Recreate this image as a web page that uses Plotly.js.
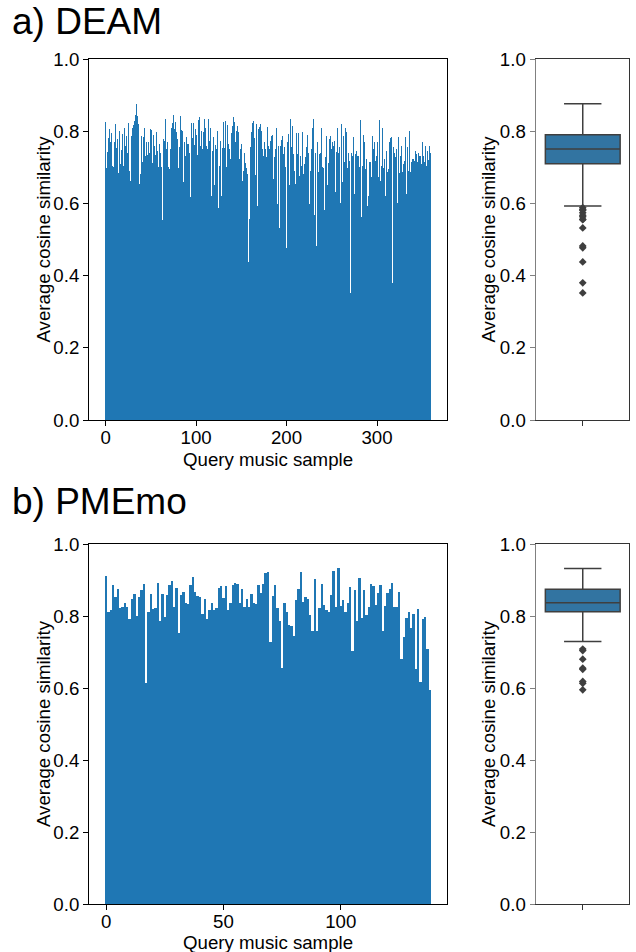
<!DOCTYPE html>
<html><head><meta charset="utf-8">
<script src="https://cdn.plot.ly/plotly-3.0.1.min.js"></script>
<style>html,body{margin:0;padding:0;background:#fff}</style>
</head><body><div id="chart" style="width:636px;height:952px"></div>
<script>
const deamValues = [
0.826,0.698,0.743,0.780,0.806,0.769,0.795,0.732,0.705,0.700,
0.770,0.820,0.753,0.778,0.685,0.800,0.710,0.737,0.749,0.792,
0.705,0.808,0.758,0.788,0.740,0.824,0.690,0.663,0.714,0.786,
0.810,0.817,0.829,0.845,0.876,0.841,0.820,0.654,0.845,0.682,
0.788,0.714,0.783,0.808,0.732,0.769,0.734,0.770,0.740,0.829,
0.806,0.804,0.712,0.790,0.760,0.735,0.798,0.745,0.702,0.776,
0.764,0.741,0.702,0.555,0.778,0.774,0.835,0.751,0.770,0.700,
0.749,0.694,0.751,0.810,0.822,0.845,0.806,0.826,0.797,0.778,
0.788,0.698,0.755,0.843,0.804,0.801,0.659,0.770,0.732,0.783,
0.765,0.762,0.765,0.740,0.617,0.824,0.780,0.822,0.762,0.806,
0.790,0.751,0.734,0.832,0.838,0.760,0.801,0.751,0.797,0.834,
0.810,0.788,0.760,0.751,0.834,0.774,0.810,0.620,0.746,0.783,
0.650,0.762,0.847,0.751,0.801,0.588,0.705,0.774,0.620,0.753,
0.826,0.753,0.686,0.829,0.700,0.817,0.765,0.751,0.723,0.795,
0.815,0.838,0.826,0.786,0.770,0.800,0.815,0.797,0.723,0.751,
0.765,0.663,0.691,0.688,0.740,0.712,0.699,0.682,0.438,0.556,
0.755,0.797,0.824,0.829,0.815,0.780,0.679,0.820,0.594,0.806,
0.813,0.820,0.801,0.751,0.695,0.732,0.770,0.751,0.728,0.813,
0.760,0.751,0.774,0.788,0.790,0.783,0.668,0.728,0.751,0.808,
0.597,0.758,0.532,0.758,0.777,0.760,0.786,0.737,0.755,0.702,
0.477,0.770,0.792,0.650,0.835,0.755,0.597,0.815,0.737,0.691,
0.654,0.795,0.737,0.795,0.677,0.730,0.574,0.705,0.797,0.682,
0.709,0.728,0.755,0.790,0.740,0.597,0.691,0.685,0.751,0.808,
0.835,0.567,0.740,0.482,0.770,0.686,0.737,0.838,0.740,0.808,
0.700,0.697,0.581,0.728,0.786,0.650,0.712,0.778,0.714,0.788,
0.751,0.770,0.760,0.774,0.631,0.743,0.810,0.740,0.765,0.755,
0.600,0.820,0.659,0.788,0.714,0.810,0.797,0.699,0.740,0.737,
0.718,0.352,0.740,0.732,0.783,0.627,0.737,0.746,0.732,0.668,
0.732,0.700,0.832,0.563,0.705,0.790,0.770,0.696,0.723,0.593,
0.810,0.620,0.716,0.714,0.673,0.788,0.751,0.770,0.718,0.732,
0.859,0.770,0.673,0.832,0.663,0.705,0.810,0.697,0.723,0.620,
0.746,0.795,0.688,0.696,0.770,0.780,0.783,0.380,0.755,0.740,
0.728,0.765,0.751,0.600,0.783,0.685,0.732,0.760,0.686,0.709,
0.718,0.583,0.783,0.627,0.755,0.691,0.801,0.686,0.714,0.723,
0.723,0.718,0.760,0.746,0.737,0.714,0.740,0.732,0.732,0.709,
0.770,0.732,0.771,0.714,0.758,0.705,0.745,0.720,0.760,0.740
];
const pmemoValues = [
0.912,0.812,0.817,0.887,0.854,0.875,0.822,0.826,0.837,0.826,
0.791,0.847,0.862,0.800,0.854,0.873,0.889,0.613,0.812,0.862,
0.819,0.822,0.891,0.787,0.862,0.797,0.859,0.887,0.896,0.826,
0.877,0.754,0.859,0.868,0.836,0.833,0.887,0.908,0.866,0.856,
0.854,0.806,0.847,0.791,0.817,0.837,0.817,0.822,0.877,0.884,
0.850,0.884,0.817,0.837,0.887,0.893,0.889,0.837,0.875,0.826,
0.847,0.824,0.862,0.837,0.834,0.887,0.865,0.889,0.919,0.921,
0.729,0.856,0.887,0.822,0.785,0.655,0.836,0.812,0.775,0.771,
0.745,0.845,0.875,0.921,0.840,0.854,0.847,0.803,0.757,0.902,
0.757,0.822,0.889,0.831,0.817,0.812,0.859,0.926,0.824,0.932,
0.828,0.845,0.812,0.836,0.880,0.704,0.871,0.785,0.905,0.794,
0.871,0.803,0.826,0.889,0.884,0.831,0.865,0.887,0.757,0.828,
0.865,0.875,0.893,0.826,0.826,0.868,0.680,0.741,0.794,0.812,
0.766,0.806,0.652,0.819,0.618,0.791,0.797,0.708,0.595
];
const panelTitles = ['a) DEAM', 'b) PMEmo'];
const xTitleText = 'Query music sample';
const yTitleText = 'Average cosine similarity';
const yTickVals = [0, 0.2, 0.4, 0.6, 0.8, 1.0];
const deamXTicks = [0, 100, 200, 300];
const pmemoXTicks = [0, 50, 100];

const FONT = 'Liberation Sans, Arial, sans-serif';
const BAR_COLOR = '#1f77b4';
const BOX_FILL = '#3274a1';
const BOX_LINE = '#3f3f3f';
const W = 636, H = 952;
const px = v => v / W, py = v => 1 - v / H;

function idx(arr) { return arr.map((_, i) => i); }
function barRange(n) { const span = (n - 1) + 0.8; const m = 0.05 * span; return [-0.4 - m, n - 1 + 0.4 + m]; }

const barX = [px(89), px(447)];
const boxX = [px(536), px(629.5)];
const deamY = [py(420), py(59)];
const pmemoY = [py(904), py(544)];

function barTrace(vals, xa, ya) {
  return { type: 'bar', x: idx(vals), y: vals, xaxis: xa, yaxis: ya,
    marker: { color: BAR_COLOR, line: { width: 0 } }, hoverinfo: 'skip', showlegend: false };
}
function boxTrace(vals, xa, ya) {
  return { type: 'box', y: vals, x0: 0, width: 0.8, xaxis: xa, yaxis: ya,
    fillcolor: BOX_FILL, line: { color: BOX_LINE, width: 1.5 },
    boxpoints: 'outliers', jitter: 0, pointpos: 0, whiskerwidth: 0.5,
    marker: { symbol: 'diamond', size: 6, color: BOX_LINE, line: { width: 0 } },
    hoverinfo: 'skip', showlegend: false };
}

const tickFont = { family: FONT, size: 18.67, color: '#000' };

function barXAxis(domain, n, ticks, anchor) {
  return { domain, anchor, range: barRange(n), tickvals: ticks, ticktext: ticks.map(String),
    showline: true, mirror: true, linecolor: '#000', linewidth: 1, ticks: 'outside', ticklen: 5, tickwidth: 1, tickcolor: '#000',
    ticklabelstandoff: -4,
    showgrid: false, zeroline: false, tickfont: tickFont };
}
function yAxisCfg(domain, anchor, color) {
  return { domain, anchor, range: [0, 1], tickvals: yTickVals, ticktext: yTickVals.map(v => v.toFixed(1)),
    showline: true, mirror: color ? false : true, linecolor: color || '#000', linewidth: color ? 1.5 : 1,
    ticks: 'outside', ticklen: 5, tickwidth: 1, tickcolor: color || '#000',
    showgrid: false, zeroline: false, tickfont: tickFont };
}
function boxXAxis(domain, anchor) {
  return { domain, anchor, range: [-0.5, 0.5], tickvals: [0], ticktext: [''],
    showline: true, mirror: true, linecolor: '#333', linewidth: 1, ticks: 'outside', ticklen: 5, tickwidth: 1, tickcolor: '#333',
    showgrid: false, zeroline: false };
}

const data = [
  barTrace(deamValues, 'x', 'y'),
  boxTrace(deamValues, 'x2', 'y2'),
  barTrace(pmemoValues, 'x3', 'y3'),
  boxTrace(pmemoValues, 'x4', 'y4')
];

function txt(text, x, y, size, opts) {
  return Object.assign({ text, xref: 'paper', yref: 'paper', x: px(x), y: py(y), xanchor: 'center', yanchor: 'middle',
    showarrow: false, font: { family: FONT, size, color: '#000' } }, opts || {});
}

const layout = {
  width: W, height: H, margin: { l: 0, r: 0, t: 0, b: 0 },
  paper_bgcolor: '#fff', plot_bgcolor: '#fff',
  font: { family: FONT, color: '#000' },
  showlegend: false,
  bargap: 0, bargroupgap: 0,
  xaxis: barXAxis(barX, deamValues.length, deamXTicks, 'y'),
  yaxis: yAxisCfg(deamY, 'x'),
  xaxis2: boxXAxis(boxX, 'y2'),
  yaxis2: yAxisCfg(deamY, 'x2', '#808080'),
  xaxis3: barXAxis(barX, pmemoValues.length, pmemoXTicks, 'y3'),
  yaxis3: yAxisCfg(pmemoY, 'x3'),
  xaxis4: boxXAxis(boxX, 'y4'),
  yaxis4: yAxisCfg(pmemoY, 'x4', '#808080'),
  shapes: [
    { type: 'line', xref: 'x2 domain', yref: 'y2 domain', x0: 1, x1: 1, y0: 0, y1: 1, line: { color: '#333', width: 1 } },
    { type: 'line', xref: 'x4 domain', yref: 'y4 domain', x0: 1, x1: 1, y0: 0, y1: 1, line: { color: '#333', width: 1 } }
  ],
  annotations: [
    txt(panelTitles[0], 10, 21, 37, { xanchor: 'left' }),
    txt(panelTitles[1], 10, 501, 37, { xanchor: 'left' }),
    txt(xTitleText, 268, 459, 18.67),
    txt(xTitleText, 268, 942, 18.67),
    txt(yTitleText, 43, 239.5, 18.67, { textangle: -90 }),
    txt(yTitleText, 488, 239.5, 18.67, { textangle: -90 }),
    txt(yTitleText, 43, 724, 18.67, { textangle: -90 }),
    txt(yTitleText, 488, 724, 18.67, { textangle: -90 })
  ]
};

Plotly.newPlot('chart', data, layout, { staticPlot: true, displayModeBar: false });
</script></body></html>
